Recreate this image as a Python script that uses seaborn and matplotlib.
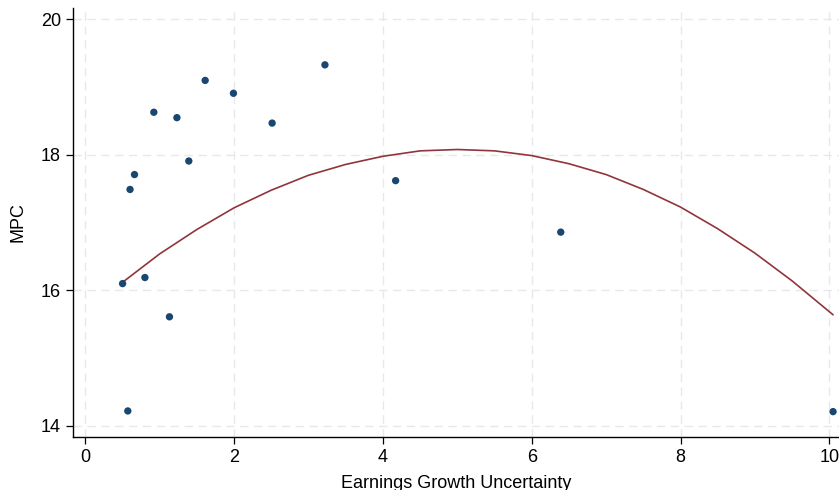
import matplotlib
matplotlib.use("Agg")
import matplotlib.pyplot as plt
import numpy as np
import pandas as pd
import seaborn as sns

# values
uncertainty = [0.50, 0.57, 0.60, 0.66, 0.80, 0.92, 1.13, 1.23, 1.39, 1.61,
               1.99, 2.51, 3.22, 4.17, 6.39, 10.05]
mpc = [16.10, 14.22, 17.49, 17.71, 16.19, 18.63, 15.61, 18.55, 17.91, 19.10,
       18.91, 18.47, 19.33, 17.62, 16.86, 14.21]

# quadratic fit line as drawn in the reference (read at steps of 0.5)
fit_x = [0.5, 1.0, 1.5, 2.0, 2.5, 3.0, 3.5, 4.0, 4.5, 5.0,
         5.5, 6.0, 6.5, 7.0, 7.5, 8.0, 8.5, 9.0, 9.5, 10.05]
fit_y = [16.12, 16.54, 16.90, 17.22, 17.48, 17.70, 17.86, 17.98, 18.06, 18.08,
         18.06, 17.99, 17.87, 17.71, 17.49, 17.23, 16.91, 16.55, 16.14, 15.64]

x_ticks = [0, 2, 4, 6, 8, 10]
y_ticks = [14, 16, 18, 20]

df = pd.DataFrame({"Earnings Growth Uncertainty": uncertainty, "MPC": mpc})
fit = pd.DataFrame({"x": fit_x, "y": fit_y})

sns.set_style("white")
plt.rcParams["font.family"] = ["Liberation Sans", "DejaVu Sans"]
plt.rcParams["text.color"] = "black"
plt.rcParams["axes.labelcolor"] = "black"
plt.rcParams["xtick.color"] = "black"
plt.rcParams["ytick.color"] = "black"

fig = plt.figure(figsize=(8.39, 4.9), dpi=100)
ax = fig.add_axes([0.0876, 0.1088, 0.9124, 0.875])

for t in x_ticks:
    ax.axvline(t, color="#e8e8e8", lw=1.0, ls=(0, (6, 4)), zorder=0)
for t in y_ticks:
    ax.axhline(t, color="#e8e8e8", lw=1.0, ls=(0, (6, 4)), zorder=0)

sns.lineplot(data=fit, x="x", y="y", ax=ax, color="#90353b", lw=1.2,
             estimator=None, sort=True, zorder=2)
sns.scatterplot(data=df, x="Earnings Growth Uncertainty", y="MPC", ax=ax,
                color="#1a476f", s=28, edgecolor="none", zorder=3)

ax.set_xlim(-0.16, 10.13)
ax.set_ylim(13.84, 20.17)
ax.set_xticks(x_ticks)
ax.set_yticks(y_ticks)
ax.tick_params(axis="both", which="major", labelsize=13, length=5, width=0.9,
               color="black", direction="out", bottom=True, left=True, pad=4)
ax.set_xlabel("Earnings Growth Uncertainty", fontsize=13, labelpad=6)
ax.set_ylabel("MPC", fontsize=13, labelpad=10)

for side in ["top", "right"]:
    ax.spines[side].set_visible(False)
for side in ["left", "bottom"]:
    ax.spines[side].set_color("black")
    ax.spines[side].set_linewidth(1.0)

fig.savefig("out.png", dpi=100)
